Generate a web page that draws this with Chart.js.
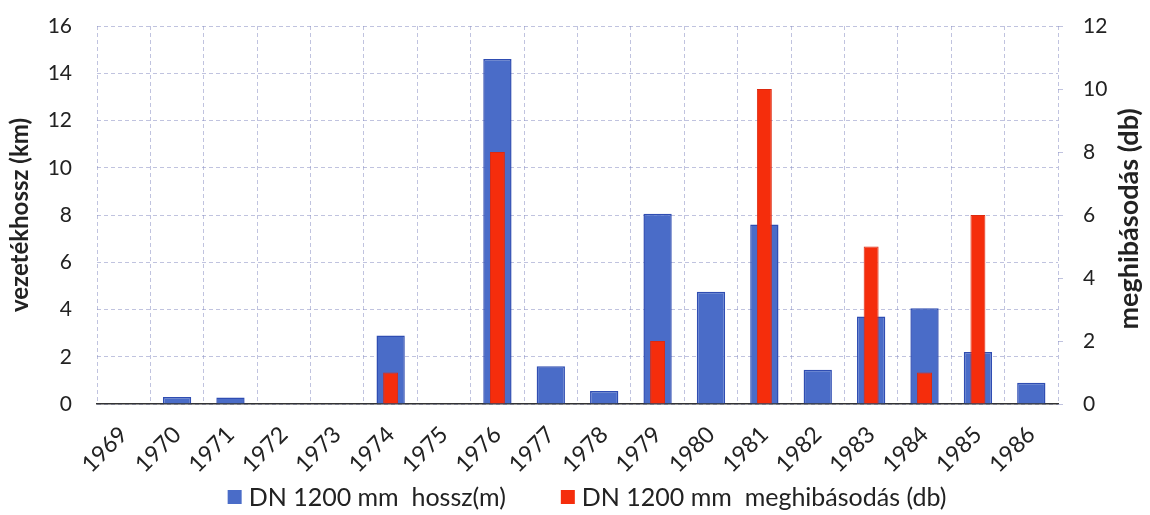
<!DOCTYPE html>
<html>
<head>
<meta charset="utf-8">
<script src="https://cdn.jsdelivr.net/npm/chart.js@4.4.1/dist/chart.umd.min.js"></script>
<style>
  body { margin: 0; background: #fff; }
  #wrap { width: 1150px; height: 515px; }
</style>
</head>
<body>
<div id="wrap"><canvas id="pipes"></canvas></div>
<script>
const years = ['1969', '1970', '1971', '1972', '1973', '1974', '1975', '1976', '1977',
               '1978', '1979', '1980', '1981', '1982', '1983', '1984', '1985', '1986'];
// vezeték hossza évente (km)
const lengthKm = [0, 0.3, 0.28, 0, 0, 2.9, 0, 14.6, 1.6, 0.55, 8.05, 4.75, 7.6, 1.45, 3.7, 4.05, 2.2, 0.9];
// meghibásodások száma (db)
const failures = [0, 0, 0, 0, 0, 1, 0, 8, 0, 0, 2, 0, 10, 0, 5, 1, 6, 0];
const kmTicks = [0, 2, 4, 6, 8, 10, 12, 14, 16];
const dbTicks = [0, 2, 4, 6, 8, 10, 12];

const FONT = 'Lato';
const gridColor = 'rgba(140, 146, 196, 0.55)';

// right axis title reads bottom-to-top, like the left one
const rightTitle = {
    id: 'rightTitle',
    afterDraw(chart) {
        const { ctx, chartArea } = chart;
        const x = chart.scales.y1.right - 21;
        ctx.save();
        ctx.translate(x, (chartArea.top + chartArea.bottom) / 2 + 4);
        ctx.rotate(-Math.PI / 2);
        ctx.font = 'bold 27px ' + FONT;
        ctx.fillStyle = '#222';
        ctx.textAlign = 'center';
        ctx.textBaseline = 'middle';
        ctx.fillText('meghibásodás (db)', 0, 0);
        ctx.restore();
    }
};

// small tick marks on the outer side of the right axis
const rightTicks = {
    id: 'rightTicks',
    afterDraw(chart) {
        const { ctx } = chart;
        const s = chart.scales.y1;
        ctx.save();
        ctx.strokeStyle = gridColor;
        ctx.lineWidth = 1;
        s.ticks.forEach(t => {
            const y = Math.round(s.getPixelForValue(t.value)) + 0.5;
            ctx.beginPath();
            ctx.moveTo(s.left, y);
            ctx.lineTo(s.left + 5, y);
            ctx.stroke();
        });
        ctx.restore();
    }
};

// legend row under the x labels, wide gap between the two items
const bottomLegend = {
    id: 'bottomLegend',
    afterDraw(chart) {
        const { ctx } = chart;
        const box = 14, gap = 7, spacing = 55, y = 498;
        ctx.save();
        ctx.font = '25px ' + FONT;
        ctx.textBaseline = 'middle';
        const items = chart.data.datasets.map(ds => ({
            text: ds.label,
            color: ds.backgroundColor,
            w: box + gap + ctx.measureText(ds.label).width
        }));
        const total = items.reduce((s, it) => s + it.w, 0) + spacing * (items.length - 1);
        let x = (chart.width - total) / 2 + 12;
        items.forEach(it => {
            ctx.fillStyle = it.color;
            ctx.fillRect(x, y - box / 2 - 1, box, box);
            ctx.fillStyle = '#222';
            ctx.fillText(it.text, x + box + gap, y);
            x += it.w + spacing;
        });
        ctx.restore();
    }
};

new Chart(document.getElementById('pipes'), {
    type: 'bar',
    data: {
        labels: years,
        datasets: [{
            label: 'DN 1200 mm  hossz(m)',
            data: lengthKm,
            yAxisID: 'y',
            order: 2,
            grouped: false,
            backgroundColor: '#4a6cc8',
            borderColor: '#2f4db2',
            borderWidth: 1.5,
            categoryPercentage: 1,
            barPercentage: 0.53
        }, {
            label: 'DN 1200 mm  meghibásodás (db)',
            data: failures,
            yAxisID: 'y1',
            order: 1,
            grouped: false,
            backgroundColor: '#f52d0c',
            borderColor: '#dc2a10',
            borderWidth: 1,
            categoryPercentage: 1,
            barPercentage: 0.28
        }]
    },
    options: {
        responsive: true,
        maintainAspectRatio: false,
        animation: false,
        layout: { padding: { top: 26, left: 0, right: 0, bottom: 36 } },
        plugins: {
            tooltip: { enabled: false },
            legend: { display: false }
        },
        scales: {
            x: {
                offset: true,
                grid: { color: gridColor, offset: true, drawTicks: false },
                border: { display: true, color: '#333', width: 1.5, dash: [4, 3] },
                ticks: {
                    font: { family: FONT, size: 23 },
                    color: '#222',
                    maxRotation: 45,
                    minRotation: 45,
                    padding: 17,
                    autoSkip: false
                },
                afterFit: scale => { scale.height = 75; }
            },
            y: {
                position: 'left',
                min: 0,
                max: 16,
                afterBuildTicks: scale => { scale.ticks = kmTicks.map(v => ({ value: v })); },
                grid: { color: gridColor, tickColor: 'transparent', tickLength: 25 },
                border: { display: false, dash: [4, 3] },
                ticks: { font: { family: FONT, size: 21 }, color: '#222', padding: 0 },
                title: {
                    display: true,
                    text: 'vezetékhossz (km)',
                    font: { family: FONT, size: 24, weight: 'bold' },
                    color: '#222',
                    padding: { top: 6, bottom: 0 }
                },
                afterFit: scale => { scale.width = 97; }
            },
            y1: {
                position: 'right',
                min: 0,
                max: 12,
                afterBuildTicks: scale => { scale.ticks = dbTicks.map(v => ({ value: v })); },
                grid: { drawOnChartArea: false, tickColor: 'transparent', tickLength: 25 },
                border: { display: false },
                ticks: { font: { family: FONT, size: 21 }, color: '#222', padding: 0 },
                afterFit: scale => { scale.width = 92; }
            }
        }
    },
    plugins: [rightTitle, rightTicks, bottomLegend]
});
</script>
</body>
</html>
